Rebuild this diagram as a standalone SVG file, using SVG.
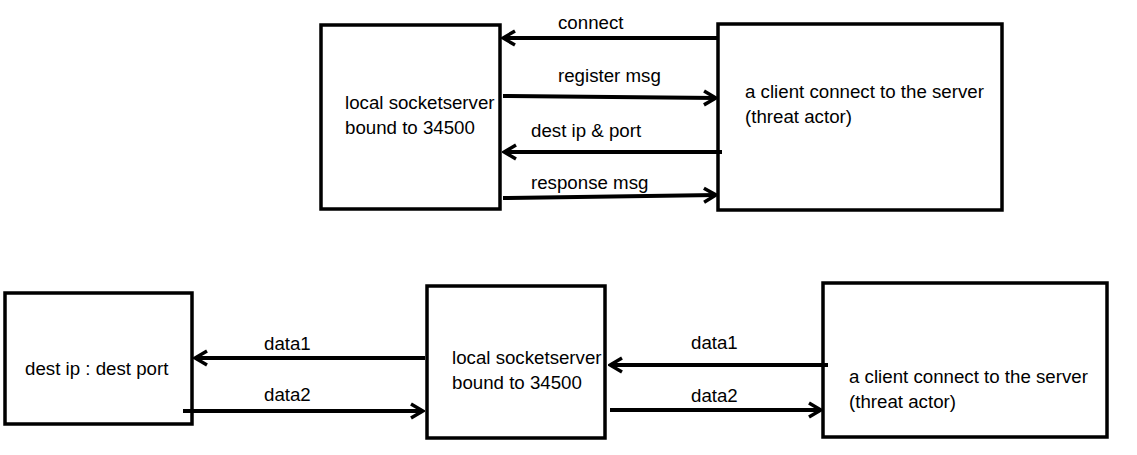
<svg xmlns="http://www.w3.org/2000/svg" width="1137" height="455" viewBox="0 0 1137 455">
<style>
.box{fill:#fff;stroke:#000;stroke-width:3.5}
.t{font-family:"Liberation Sans",Arial,sans-serif;font-size:18.7px;fill:#000}
.c{stroke:#000;stroke-width:4;fill:none;marker-end:url(#ah)}
</style>
<defs>
<marker id="ah" markerUnits="userSpaceOnUse" viewBox="-14 -10 16 20" refX="0" refY="0" markerWidth="16" markerHeight="20" orient="auto">
<path d="M-12,-7 L0,0 L-12,7" fill="none" stroke="#000" stroke-width="3.5"/>
</marker>
</defs>
<rect width="1137" height="455" fill="#fff"/>
<g id="top-server"><rect class="box" x="321" y="25" width="179" height="184"/>
<text class="t" x="345" y="109">local socketserver</text><text class="t" x="345" y="134">bound to 34500</text></g>
<g id="top-client"><rect class="box" x="718" y="24" width="284" height="186"/>
<text class="t" x="745" y="98">a client connect to the server</text><text class="t" x="745" y="123">(threat actor)</text></g>
<g id="dest"><rect class="box" x="5" y="293" width="187" height="131"/>
<text class="t" x="25" y="375">dest ip : dest port</text></g>
<g id="bottom-server"><rect class="box" x="427" y="286" width="178" height="152"/>
<text class="t" x="452" y="364">local socketserver</text><text class="t" x="452" y="389">bound to 34500</text></g>
<g id="bottom-client"><rect class="box" x="823" y="283" width="284" height="154"/>
<text class="t" x="849" y="383">a client connect to the server</text><text class="t" x="849" y="408">(threat actor)</text></g>
<g id="connectors">
<line class="c" x1="717" y1="38" x2="503" y2="38"/>
<line class="c" x1="503" y1="96" x2="716" y2="98"/>
<line class="c" x1="722" y1="152" x2="504" y2="152"/>
<line class="c" x1="503" y1="198" x2="716" y2="195"/>
<line class="c" x1="425" y1="358" x2="195" y2="358"/>
<line class="c" x1="183" y1="411" x2="423" y2="411"/>
<line class="c" x1="828" y1="365" x2="610" y2="365"/>
<line class="c" x1="610" y1="410" x2="821" y2="410"/>
<text class="t" x="558" y="29">connect</text>
<text class="t" x="558" y="82">register msg</text>
<text class="t" x="531" y="137">dest ip &amp; port</text>
<text class="t" x="531" y="189">response msg</text>
<text class="t" x="264" y="350">data1</text>
<text class="t" x="264" y="401">data2</text>
<text class="t" x="691" y="349">data1</text>
<text class="t" x="691" y="402">data2</text>
</g>
</svg>
